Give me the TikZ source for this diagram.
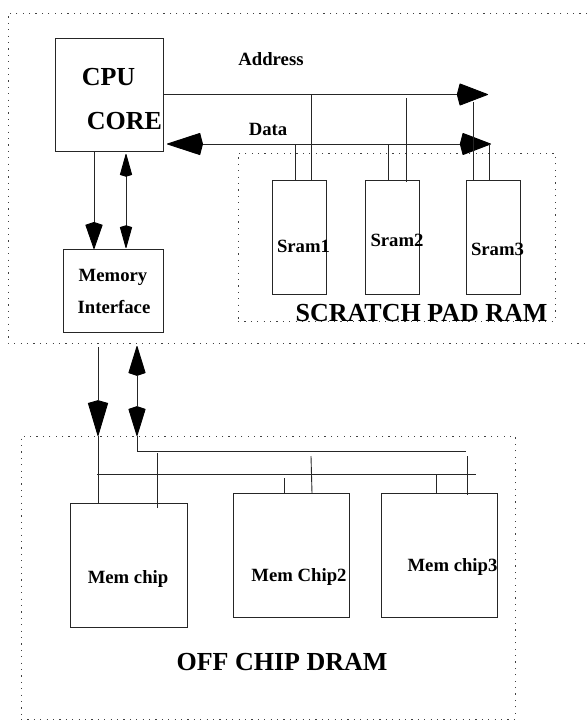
\documentclass[tikz,border=0pt]{standalone}
\usepackage{fontspec}
\setmainfont{Liberation Serif}
\usetikzlibrary{arrows.meta,calc}

\tikzset{
  box/.style={draw=black!85, line width=0.9pt, inner sep=0pt, outer sep=0pt},
  dotbox/.style={draw=black!75, line width=0.9pt, dash pattern=on 1.2pt off 5.2pt, inner sep=0pt, outer sep=0pt},
  wire/.style={draw=black!85, line width=0.9pt},
  lbl/.style={font=\bfseries\fontsize{18.7}{22}\selectfont, anchor=base, inner sep=0pt},
  biglbl/.style={font=\bfseries\fontsize{26}{30}\selectfont, anchor=base, inner sep=0pt},
  tipA/.tip={Stealth[length=29pt,width=22pt,inset=-3pt,color=black,round]},
  tipD/.tip={Stealth[length=34pt,width=22pt,inset=-3pt,color=black,round]},
  tipB/.tip={Stealth[length=25pt,width=17pt,inset=-3pt,color=black,round]},
  tipS/.tip={Stealth[length=22pt,width=12pt,inset=-2pt,color=black,round]},
  tipC/.tip={Stealth[length=34pt,width=20pt,inset=-3pt,color=black,round]},
  tipE/.tip={Stealth[length=28pt,width=17pt,inset=-3pt,color=black,round]},
}

\begin{document}
\begin{tikzpicture}[x=1pt, y=-1pt]
\useasboundingbox (0,0) rectangle (587,721);

% on-chip region (open on the right)
\draw[dotbox] (587,13) -- (8,13) -- (8,343) -- (587,343);

% blocks
\node[box, minimum width=108pt, minimum height=113pt] (cpu) at (109,94.5) {};
\node[box, minimum width=100pt, minimum height=83pt] (mi) at (113,290.5) {};
\node[dotbox, minimum width=317pt, minimum height=168pt] (spad) at (396.5,237) {};
\node[box, minimum width=54pt, minimum height=114pt] (sram1) at (299,237) {};
\node[box, minimum width=54pt, minimum height=114pt] (sram2) at (392,237) {};
\node[box, minimum width=54pt, minimum height=114pt] (sram3) at (493,237) {};

\node[dotbox, minimum width=494pt, minimum height=283pt] (dram) at (268,577.5) {};
\node[box, minimum width=117pt, minimum height=124pt] (m1) at (128.5,565) {};
\node[box, minimum width=116pt, minimum height=124pt] (m2) at (291,555) {};
\node[box, minimum width=116pt, minimum height=124pt] (m3) at (439,555) {};

% labels
\node[biglbl] at (108.5,85) {CPU};
\node[biglbl] at (124.5,129) {CORE};
\node[lbl] at (271,65) {Address};
\node[lbl] at (268,135) {Data};
\node[lbl] at (303.5,252) {Sram1};
\node[lbl] at (397,246) {Sram2};
\node[lbl] at (497.5,255) {Sram3};
\node[biglbl] at (421.5,321) {SCRATCH PAD RAM};
\node[lbl] at (113,281) {Memory};
\node[lbl] at (114,313) {Interface};
\node[lbl] at (128,583) {Mem chip};
\node[lbl] at (299,581) {Mem Chip2};
\node[lbl] at (452.5,571) {Mem chip3};
\node[biglbl] at (282,670) {OFF CHIP DRAM};

% address and data buses
\coordinate (addrEnd) at (488,94.5);
\coordinate (dataL) at (167,144);
\coordinate (dataR) at (491,144);
\draw[wire,-{tipA}] (cpu.east) -- (addrEnd);
\draw[wire,{tipD}-{tipA}] (dataL) -- (dataR);

% taps down to the SRAM banks
\coordinate (s1d) at ($(sram1.north west)+(23,0)$);
\coordinate (s1a) at ($(sram1.north west)+(39,0)$);
\coordinate (s2d) at ($(sram2.north west)+(23,0)$);
\coordinate (s2a) at ($(sram2.north west)+(41,2)$);
\coordinate (s3a) at ($(sram3.north west)+(7,0)$);
\coordinate (s3d) at ($(sram3.north west)+(23,0)$);
\draw[wire] (s1d) -- (s1d |- dataL);
\draw[wire] (s1a) -- (s1a |- cpu.east);
\draw[wire] (s2d) -- (s2d |- dataL);
\draw[wire] (s2a) -- ($(s2a |- cpu.east)+(0,3.5)$);
\draw[wire] (s3a) -- ($(s3a |- cpu.east)+(0,7.5)$);
\draw[wire] (s3d) -- (s3d |- dataR);

% CPU to memory interface
\draw[wire,-{tipB}] ($(cpu.south west)+(39,0)$) -- ($(mi.north west)+(31,0)$);
\draw[wire,{tipS}-{tipS}] ($(cpu.south west)+(71,3)$) -- ($(mi.north west)+(63,-1)$);

% memory interface to off-chip memory
\coordinate (l0) at (98,347);
\coordinate (la) at (98,436);
\coordinate (u0) at (137,346);
\coordinate (ua) at (137,436);
\coordinate (ub1) at (137,451);
\coordinate (ub2) at (466,451);
\coordinate (lb1) at (97,474);
\coordinate (lb2) at (476,474);
\draw[wire,-{tipC}] (l0) -- (la);
\draw[wire] (la) -- ($(m1.north west)+(28,0)$);
\draw[wire,{tipE}-{tipE}] (u0) -- (ua);
\draw[wire] (ua) -- (ub1) -- (ub2);
\draw[wire] (lb1) -- (lb2);

% taps down to the DRAM chips
\draw[wire] ($(m1.north west |- ub1)+(87,2)$) -- ($(m1.north west)+(87,5)$);
\draw[wire] ($(m2.north west |- lb1)+(51,4)$) -- ($(m2.north west)+(51,0)$);
\draw[wire] ($(m2.north west |- ub1)+(78,5)$) -- ($(m2.north west)+(79,0)$);
\draw[wire] ($(m3.north west |- lb1)+(55,0)$) -- ($(m3.north west)+(55,0)$);
\draw[wire] ($(m3.north west |- ub1)+(86,5)$) -- ($(m3.north west)+(86,2)$);
\end{tikzpicture}
\end{document}
